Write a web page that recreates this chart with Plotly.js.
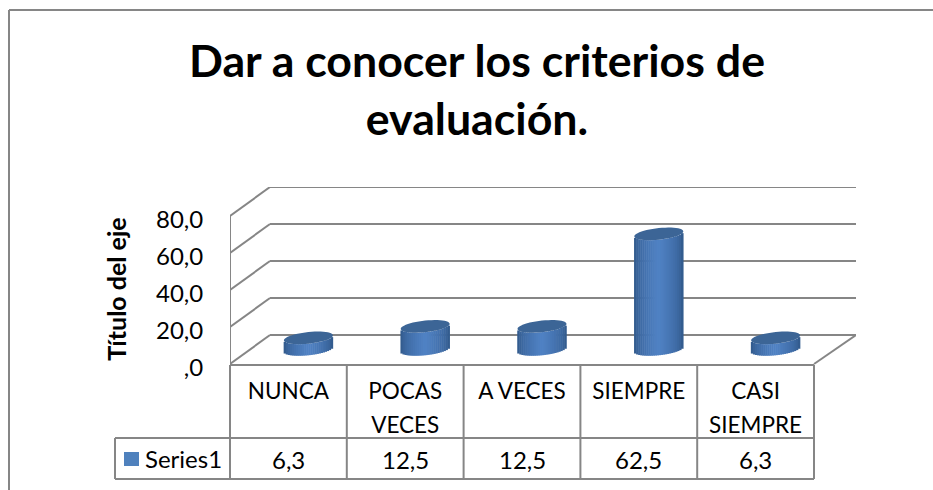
<!DOCTYPE html>
<html><head><meta charset="utf-8">
<script src="https://cdn.plot.ly/plotly-3.0.1.min.js"></script>
<style>html,body{margin:0;padding:0;background:#fff}#c{width:933px;height:490px}</style>
</head><body><div id="c"></div>
<script>
const categories = ["NUNCA", "POCAS<br>VECES", "A VECES", "SIEMPRE", "CASI<br>SIEMPRE"];
const seriesName = "Series1";
const values = [6.3, 12.5, 12.5, 62.5, 6.3];
const yTicks = [0, 20, 40, 60, 80];
const yTickLabels = [",0", "20,0", "40,0", "60,0", "80,0"];
const titleText = "Dar a conocer los criterios de<br>evaluación.";
const yTitleText = "Título del eje";

const W = 933, H = 490, FONT = "Lato, Carlito, Calibri, sans-serif";
const GRID = "#868686", BLUE = "#4f81bd";
// Pixel frame of the plot area
const L = 230, R = 856, T = 187, B = 391, FLOOR = 364;
const pxPerX = 116.8, pxPerY = 1.85;
const xMin = -0.5, xMax = xMin + (R - L) / pxPerX;
const yMin = -(B - FLOOR) / pxPerY, yMax = (FLOOR - T) / pxPerY;
// 3D depth expressed in axis units
const depthX = 40 / pxPerX, depthY = 29 / pxPerY;
const xFront = xMin + categories.length;
const midX = 20 / pxPerX, midY = 14.5 / pxPerY;
// Cylinder geometry in axis units
const rx = 24.5 / pxPerX, ryB = 5.8 / pxPerY, tilt = 2.5 / pxPerY;

// Paper coordinates are relative to the plot area
const px = x => (x - L) / (R - L), py = y => (B - y) / (B - T);
const shapes = [];
function seg(x0, y0, x1, y1, width) {
  shapes.push({type: "line", xref: "x", yref: "y", x0, y0, x1, y1, layer: "below",
    line: {color: GRID, width: width || 2}});
}
function pseg(x0, y0, x1, y1) {
  shapes.push({type: "line", xref: "paper", yref: "paper", x0: px(x0), y0: py(y0), x1: px(x1), y1: py(y1),
    layer: "below", line: {color: GRID, width: 2}});
}
// Back wall gridlines with side-wall returns
yTicks.forEach(v => {
  seg(xMin, v, xMin + depthX, v + depthY);
  seg(xMin + depthX, v + depthY, xMax, v + depthY);
});
seg(xMin, 0, xMin, yTicks[yTicks.length - 1]);
seg(xFront, 0, xMax, depthY);

// Chart frame (runs past the right and bottom edges of the picture)
pseg(9, 10, 9, H + 5);
pseg(9, 10, W + 5, 10);
// Data table
const colEdges = categories.map((c, i) => L + i * pxPerX).concat([L + categories.length * pxPerX]);
const ROW0 = 365, ROW1 = 438, ROW2 = 479;
colEdges.forEach(x => pseg(x, ROW0, x, ROW2));
pseg(115, ROW1, 115, ROW2);
pseg(L, ROW0, colEdges[colEdges.length - 1], ROW0);
pseg(115, ROW1, colEdges[colEdges.length - 1], ROW1);
pseg(115, ROW2, colEdges[colEdges.length - 1], ROW2);
shapes.push({type: "rect", xref: "paper", yref: "paper", x0: px(124), x1: px(139), y0: py(452), y1: py(466),
  line: {width: 0}, fillcolor: BLUE});

function mix(a, b, t) {
  return "rgb(" + a.map((c, i) => Math.round(c + (b[i] - c) * t)).join(",") + ")";
}
const DARK = [44, 82, 130], LIGHT = [80, 130, 196];
const traces = [];
const STRIPS = 24;
for (let s = 0; s < STRIPS; s++) {
  const u = (s + 0.5) / STRIPS * 2 - 1;              // -1..1 across the cylinder
  const shade = Math.pow(Math.max(0, 1 - Math.abs(u)), 0.5);
  const lower = tilt * u - ryB * Math.sqrt(1 - u * u);
  traces.push({
    type: "bar", orientation: "v", name: seriesName, showlegend: false, hoverinfo: "skip",
    x: values.map((v, i) => i + midX + u * rx),
    y: values,
    base: values.map(() => midY + lower),
    width: 2 * rx / STRIPS * 1.25,
    marker: {color: mix(DARK, LIGHT, shade), opacity: 1, line: {width: 0}}
  });
}
// Top faces of the cylinders, positioned from the series values
values.forEach((v, i) => {
  let d = "";
  const n = 48;
  for (let k = 0; k <= n; k++) {
    const t = k / n * 2 * Math.PI;
    const xx = i + midX + rx * Math.cos(t);
    const yy = midY + v + ryB * Math.sin(t) + tilt * Math.cos(t);
    d += (k ? "L" : "M") + xx + "," + yy;
  }
  shapes.push({type: "path", xref: "x", yref: "y", path: d + "Z", layer: "above",
    fillcolor: "#3c6596", line: {width: 0}});
});

const annotations = values.map((v, i) => ({
  xref: "x", yref: "paper", x: i, y: py(459), yanchor: "middle", xanchor: "center", showarrow: false,
  text: v.toFixed(1).replace(".", ","), font: {family: FONT, size: 24, color: "#000"}
}));
annotations.push({xref: "paper", yref: "paper", x: px(143), y: py(458), xanchor: "left", yanchor: "middle",
  showarrow: false, text: seriesName, font: {family: FONT, size: 24, color: "#000"}});

const catTicks = categories.map(c => c.split("<br>").map(l => '<span style="font-size:22.5px">' + l + "</span>").join("<br>"));

const layout = {
  width: W, height: H, autosize: false, showlegend: false,
  paper_bgcolor: "#fff", plot_bgcolor: "rgba(0,0,0,0)",
  margin: {l: L, r: W - R, t: T, b: H - B, pad: 0},
  barmode: "overlay",
  title: {text: titleText, font: {family: FONT, size: 44.7, color: "#000", weight: 700},
    x: 477 / W, xanchor: "center", y: 1 - 77 / H, yanchor: "middle", xref: "container", yref: "container"},
  xaxis: {
    type: "linear", range: [xMin, xMax], anchor: "free", position: py(FLOOR), showgrid: false, zeroline: false,
    showline: false, tickmode: "array", tickvals: categories.map((c, i) => i), ticktext: catTicks,
    ticks: "outside", ticklen: 4, tickcolor: "rgba(0,0,0,0)", tickangle: 0,
    tickfont: {family: FONT, size: 25.4, color: "#000"}, fixedrange: true
  },
  yaxis: {
    range: [yMin, yMax], showgrid: false, zeroline: false, showline: false,
    tickmode: "array", tickvals: yTicks, ticktext: yTickLabels, ticklabelshift: 4,
    ticks: "outside", ticklen: 21, tickcolor: "rgba(0,0,0,0)",
    tickfont: {family: FONT, size: 24, color: "#000"}, fixedrange: true,
    title: {text: yTitleText, font: {family: FONT, size: 25, color: "#000", weight: 700}, standoff: 22}
  },
  shapes, annotations
};
Plotly.newPlot("c", traces, layout, {displayModeBar: false, staticPlot: true});
</script></body></html>
